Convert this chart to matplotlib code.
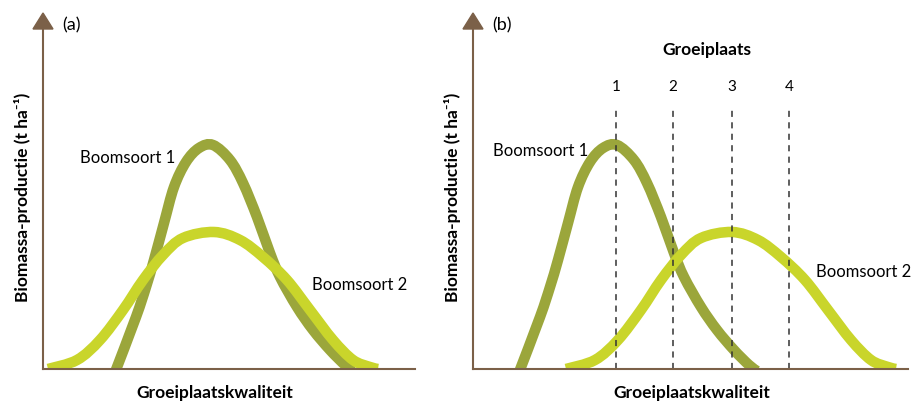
import matplotlib
matplotlib.use("Agg")
import matplotlib.pyplot as plt
from matplotlib.patches import Polygon, PathPatch
from matplotlib.path import Path

plt.rcParams['font.family'] = ['Liberation Sans Narrow', 'DejaVu Sans Condensed', 'Lato', 'DejaVu Sans']

# curve shapes: offset from the peak (px) and height above baseline (px)
soort1_dx = [-99, -77, -67, -59, -49, -39, -27, -14, 0, 17, 30, 44, 57, 67, 84, 100, 117, 132, 140]
soort1_h = [-6, 52, 82, 109, 146, 182, 207, 221, 224, 209, 186, 152, 116, 92, 62, 39, 19, 4, -2]
soort2_dx = [-166, -137, -114, -91, -71, -51, -31, 0, 26, 49, 73, 96, 119, 139, 156, 164]
soort2_h = [0, 9, 29, 59, 89, 114, 131, 137, 129, 112, 89, 59, 29, 9, 2, 0]

# peak positions per panel (px from the y axis)
peak1 = {"a": 170, "b": 144}
peak2 = {"a": 171, "b": 259}

groeiplaats = ["1", "2", "3", "4"]
groeiplaats_x = [143, 200, 259, 316]

OLIVE = "#9ba63b"
YELLOW = "#c9d52b"
BROWN = "#7b6048"

W, H = 914, 405
fig = plt.figure(figsize=(W / 100, H / 100), dpi=100)

BASE = 369
TOP = 13


def smooth_path(xs, ys):
    """Bezier path through the given points (Catmull-Rom tangents)"""
    pts = list(zip(xs, ys))
    pts = [pts[0]] + pts + [pts[-1]]
    verts = [pts[1]]
    codes = [Path.MOVETO]
    for i in range(1, len(pts) - 2):
        p0, p1, p2, p3 = pts[i - 1], pts[i], pts[i + 1], pts[i + 2]
        c1 = (p1[0] + (p2[0] - p0[0]) / 6, p1[1] + (p2[1] - p0[1]) / 6)
        c2 = (p2[0] - (p3[0] - p1[0]) / 6, p2[1] - (p3[1] - p1[1]) / 6)
        verts += [c1, c2, p2]
        codes += [Path.CURVE4] * 3
    return Path(verts, codes)


def panel(ox, width, key):
    ax = fig.add_axes([ox / W, (H - BASE) / H, width / W, (BASE - TOP) / H])
    ax.set_xlim(0, width)
    ax.set_ylim(0, BASE - TOP)
    ax.axis("off")

    x1 = [peak1[key] + d for d in soort1_dx]
    x2 = [peak2[key] + d for d in soort2_dx]
    ax.add_patch(PathPatch(smooth_path(x1, soort1_h), fill=False, edgecolor=OLIVE,
                           lw=7.6, capstyle="butt", zorder=2))
    ax.add_patch(PathPatch(smooth_path(x2, soort2_h), fill=False, edgecolor=YELLOW,
                           lw=7.6, capstyle="butt", zorder=3))

    # axes with arrowhead
    ax.plot([0, width], [0, 0], color=BROWN, lw=1.5, clip_on=False, zorder=5)
    ax.plot([0, 0], [0, BASE - 29], color=BROWN, lw=1.5, clip_on=False, zorder=5)
    ax.add_patch(Polygon([[-10, BASE - 29], [10, BASE - 29], [0, BASE - TOP]],
                         closed=True, color=BROWN, clip_on=False, zorder=5))

    ax.text(19, BASE - 25, "(%s)" % key, fontsize=13, ha="left", va="center", clip_on=False)
    ax.text(-20, 172, "Biomassa-productie (t ha⁻¹)", rotation=90, fontsize=12.5,
            fontweight="bold", ha="center", va="center", clip_on=False)
    return ax


ax_a = panel(43, 372, "a")
ax_a.text(172, -24, "Groeiplaatskwaliteit", fontsize=12.5, fontweight="bold",
          ha="center", va="center", clip_on=False)
ax_a.text(37, 211, "Boomsoort 1", fontsize=12, ha="left", va="center")
ax_a.text(269, 84, "Boomsoort 2", fontsize=12, ha="left", va="center")

ax_b = panel(473, 435, "b")
ax_b.text(219, -24, "Groeiplaatskwaliteit", fontsize=12.5, fontweight="bold",
          ha="center", va="center", clip_on=False)
ax_b.text(20, 218, "Boomsoort 1", fontsize=12, ha="left", va="center")
ax_b.text(438, 97, "Boomsoort 2", fontsize=12, ha="right", va="center", clip_on=False)
ax_b.text(234, 319, "Groeiplaats", fontsize=12.5, fontweight="bold", ha="center", va="center")
for lab, gx in zip(groeiplaats, groeiplaats_x):
    ax_b.plot([gx, gx], [0, BASE - 110], color="#333333", lw=1.1,
              linestyle=(0, (4, 3.5)), zorder=4)
    ax_b.text(gx, BASE - 87, lab, fontsize=11, ha="center", va="center")

fig.savefig("out.png", dpi=100)
